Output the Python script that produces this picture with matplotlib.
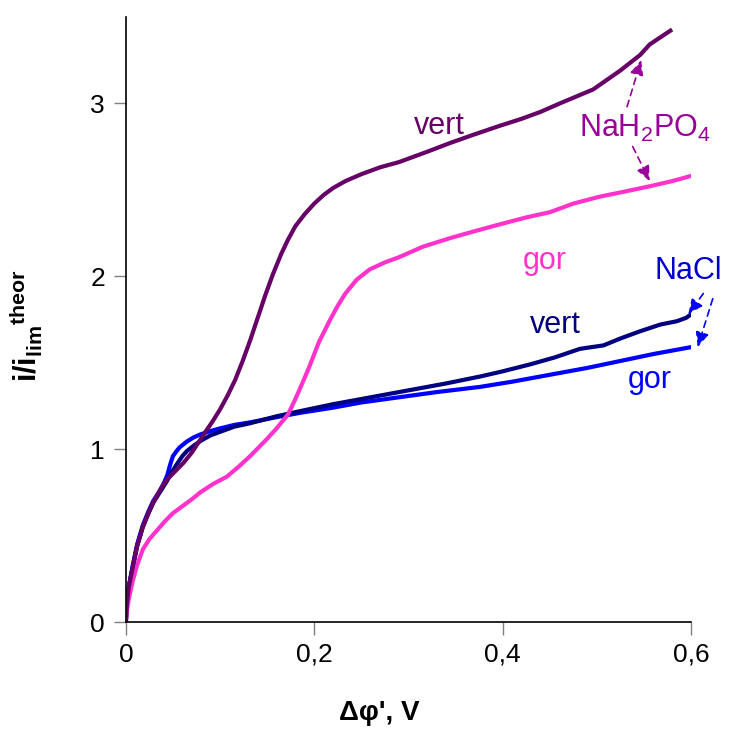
import matplotlib
matplotlib.use("Agg")
import matplotlib.pyplot as plt
from matplotlib.ticker import FuncFormatter

plt.rcParams["font.family"] = ["Liberation Sans", "DejaVu Sans"]
plt.rcParams["mathtext.fontset"] = "custom"
plt.rcParams["mathtext.rm"] = "Liberation Sans"
plt.rcParams["mathtext.it"] = "Liberation Sans"
plt.rcParams["mathtext.bf"] = "Liberation Sans:bold"

# NaH2PO4, vertical
x_p_vert = [0, 0.001, 0.003, 0.0074, 0.012, 0.018, 0.024, 0.029, 0.036, 0.043,
            0.052, 0.061, 0.07, 0.082, 0.092, 0.1, 0.108, 0.116, 0.124, 0.132,
            0.14, 0.148, 0.156, 0.165, 0.172, 0.18, 0.19, 0.2, 0.21, 0.22,
            0.233, 0.25, 0.27, 0.29, 0.32, 0.344, 0.37, 0.397, 0.42, 0.44,
            0.461, 0.496, 0.525, 0.546, 0.556, 0.578]
y_p_vert = [0, 0.1, 0.2, 0.32, 0.44, 0.55, 0.63, 0.69, 0.76, 0.82,
            0.87, 0.92, 0.98, 1.08, 1.16, 1.23, 1.31, 1.40, 1.51, 1.63,
            1.76, 1.89, 2.01, 2.13, 2.21, 2.29, 2.36, 2.42, 2.47, 2.51,
            2.55, 2.59, 2.63, 2.66, 2.72, 2.77, 2.82, 2.87, 2.91, 2.95,
            3.0, 3.08, 3.19, 3.28, 3.34, 3.42]

# NaH2PO4, horizontal
x_p_gor = [0, 0.001, 0.003, 0.0074, 0.012, 0.018, 0.025, 0.033, 0.041, 0.05,
           0.06, 0.07, 0.079, 0.093, 0.107, 0.12, 0.132, 0.141, 0.15, 0.16,
           0.172, 0.18, 0.188, 0.195, 0.205, 0.217, 0.225, 0.233, 0.245, 0.259,
           0.275, 0.29, 0.315, 0.344, 0.37, 0.397, 0.425, 0.45, 0.475, 0.503,
           0.53, 0.556, 0.58, 0.6]
y_p_gor = [0, 0.06, 0.13, 0.24, 0.33, 0.42, 0.48, 0.53, 0.58, 0.63,
           0.67, 0.71, 0.75, 0.8, 0.84, 0.9, 0.96, 1.01, 1.06, 1.12,
           1.2, 1.29, 1.39, 1.48, 1.62, 1.75, 1.83, 1.9, 1.98, 2.04,
           2.08, 2.11, 2.17, 2.22, 2.26, 2.30, 2.34, 2.37, 2.42, 2.46,
           2.49, 2.52, 2.55, 2.58]

# NaCl, horizontal
x_c_gor = [0, 0.001, 0.003, 0.0074, 0.012, 0.018, 0.024, 0.029, 0.035, 0.04,
           0.044, 0.047, 0.05, 0.054, 0.057, 0.065, 0.072, 0.079, 0.09, 0.1,
           0.115, 0.132, 0.16, 0.185, 0.22, 0.25, 0.29, 0.33, 0.376, 0.41,
           0.45, 0.49, 0.525, 0.56, 0.6]
y_c_gor = [0, 0.1, 0.2, 0.33, 0.45, 0.56, 0.64, 0.70, 0.75, 0.80,
           0.85, 0.91, 0.96, 0.99, 1.01, 1.045, 1.068, 1.085, 1.105, 1.12,
           1.14, 1.155, 1.185, 1.21, 1.24, 1.27, 1.30, 1.33, 1.36, 1.39,
           1.43, 1.47, 1.51, 1.55, 1.59]

# NaCl, vertical
x_c_vert = [0, 0.001, 0.003, 0.0074, 0.012, 0.018, 0.024, 0.029, 0.036, 0.043,
            0.049, 0.055, 0.06, 0.065, 0.072, 0.08, 0.09, 0.1, 0.115, 0.132,
            0.16, 0.185, 0.22, 0.25, 0.3, 0.34, 0.376, 0.4, 0.429, 0.455,
            0.482, 0.507, 0.525, 0.545, 0.567, 0.585, 0.595, 0.6]
y_c_vert = [0, 0.1, 0.2, 0.32, 0.44, 0.55, 0.63, 0.69, 0.75, 0.81,
            0.87, 0.92, 0.96, 0.99, 1.02, 1.05, 1.08, 1.10, 1.13, 1.15,
            1.19, 1.22, 1.26, 1.29, 1.34, 1.38, 1.42, 1.45, 1.49, 1.53,
            1.58, 1.60, 1.64, 1.68, 1.72, 1.74, 1.76, 1.78]

x_ticks = [0, 0.2, 0.4, 0.6]
y_ticks = [0, 1, 2, 3]

fig = plt.figure(figsize=(7.36, 7.31), dpi=100)
ax = fig.add_axes([0.171, 0.149, 0.768, 0.828])

ax.plot(x_c_gor, y_c_gor, color="#0000ff", lw=3, solid_joinstyle="round")
ax.plot(x_c_vert, y_c_vert, color="#000080", lw=3, solid_joinstyle="round")
ax.plot(x_p_gor, y_p_gor, color="#ff33cc", lw=3, solid_joinstyle="round")
ax.plot(x_p_vert, y_p_vert, color="#660066", lw=3, solid_joinstyle="round")

ax.set_xlim(0, 0.6)
ax.set_ylim(0, 3.5)
ax.set_xticks(x_ticks)
ax.set_yticks(y_ticks)
ax.xaxis.set_major_formatter(FuncFormatter(lambda v, p: ("%g" % round(v, 2)).replace(".", ",")))
ax.tick_params(direction="out", length=9, width=1, color="#808080",
               labelsize=19, pad=6)
for s in ["top", "right"]:
    ax.spines[s].set_visible(False)
for s in ["left", "bottom"]:
    ax.spines[s].set_linewidth(1.2)

ax.set_xlabel("\u0394\u03c6', V", fontsize=20, fontweight="bold", va="top")
ax.xaxis.set_label_coords(0.448, -0.128)
ax.set_ylabel(r"$\mathbf{i/i_{lim}{}^{theor}}$", fontsize=22)
ax.yaxis.set_label_coords(-0.143, 0.49)

txt = dict(fontsize=22, ha="center", va="center")
ax.text(0.333, 2.87, "vert", color="#660066", **txt)
ax.text(0.551, 2.855, r"NaH$_2$PO$_4$", color="#990099", **txt)
ax.text(0.445, 2.09, "gor", color="#ff33cc", **txt)
ax.text(0.597, 2.03, "NaCl", color="#0000cc", **txt)
ax.text(0.456, 1.72, "vert", color="#000080", **txt)
ax.text(0.556, 1.40, "gor", color="#0000ff", **txt)

arrows = [
    ((0.532, 2.98), (0.547, 3.25), "#990099"),
    ((0.538, 2.75), (0.556, 2.55), "#990099"),
    ((0.613, 1.90), (0.597, 1.78), "#0000ff"),
    ((0.623, 1.87), (0.607, 1.59), "#0000ff"),
]
for tail, head, c in arrows:
    ax.annotate("", xy=head, xytext=tail, annotation_clip=False,
                arrowprops=dict(arrowstyle="-|>,head_length=0.9,head_width=0.4",
                                color=c, lw=1.2, linestyle=(0, (4, 3)),
                                shrinkA=0, shrinkB=0))

fig.savefig("out.png", dpi=100)
